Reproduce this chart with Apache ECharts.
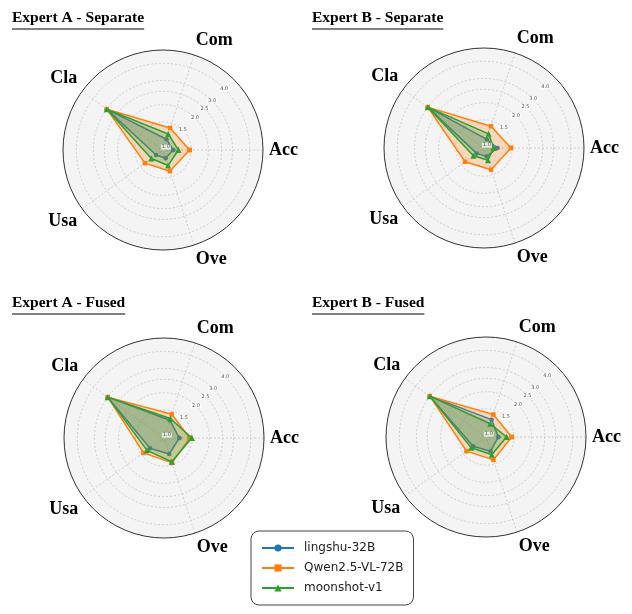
<!DOCTYPE html>
<html><head><meta charset="utf-8">
<script src="https://cdn.jsdelivr.net/npm/echarts@6/dist/echarts.min.js"></script>
<style>html,body{margin:0;padding:0;background:#fff}#c{width:632px;height:614px}</style>
</head><body><div id="c"></div>
<script>
// ---- data ----
const axisNames = ['Acc', 'Com', 'Cla', 'Usa', 'Ove'];
const models = ['lingshu-32B', 'Qwen2.5-VL-72B', 'moonshot-v1'];
const panelTitles = ['Expert A - Separate', 'Expert B - Separate', 'Expert A - Fused', 'Expert B - Fused'];
const radialTicks = [1.0, 1.5, 2.0, 2.5, 3.0, 4.0];

// values in axis order: Acc, Com, Cla, Usa, Ove
const aSepLingshu = [1.11, 1.13, 3.0, 1.08, 1.08];
const aSepQwen    = [1.46, 1.38, 3.0, 1.36, 1.36];
const aSepMoon    = [1.21, 1.24, 3.0, 1.19, 1.23];

const bSepLingshu = [1.17, 1.09, 3.0, 1.09, 1.085];
const bSepQwen    = [1.47, 1.37, 3.0, 1.385, 1.37];
const bSepMoon    = [1.10, 1.20, 3.0, 1.165, 1.16];

const aFusLingshu = [1.21, 1.28, 3.0, 1.25, 1.24];
const aFusQwen    = [1.44, 1.42, 3.0, 1.43, 1.45];
const aFusMoon    = [1.49, 1.32, 3.0, 1.33, 1.42];

const bFusLingshu = [1.15, 1.27, 3.0, 1.22, 1.20];
const bFusQwen    = [1.44, 1.39, 3.0, 1.40, 1.40];
const bFusMoon    = [1.32, 1.18, 3.0, 1.27, 1.28];

const panelData = [
  [aSepLingshu, aSepQwen, aSepMoon],
  [bSepLingshu, bSepQwen, bSepMoon],
  [aFusLingshu, aFusQwen, aFusMoon],
  [bFusLingshu, bFusQwen, bFusMoon]
];

// ---- style / layout ----
const colors = ['#1f77b4', '#ff7f0e', '#2ca02c'];
const symbols = ['circle', 'rect', 'triangle'];
const centers = [[163, 150], [484, 148], [164, 438], [486, 437]];
const R = 100;
const rMin = 0.935, rMax = 5;
const titlePos = [[12, 10], [312, 10], [12, 295], [312, 295]];
const step = 360 / axisNames.length;

const polar = [], angleAxis = [], radiusAxis = [], series = [], title = [], graphic = [];
const gridLine = { color: '#c4c4c4', type: [2, 2], width: 0.8 };

centers.forEach((c, p) => {
  polar.push({ center: c, radius: [0, R] });
  polar.push({ center: c, radius: [0, R] });
  angleAxis.push({
    polarIndex: 2 * p, type: 'value', min: 0, max: 360, interval: step,
    startAngle: 0, clockwise: false, z: 1,
    axisLine: { lineStyle: { color: '#333', width: 1 } },
    axisTick: { show: false },
    axisLabel: {
      margin: 6, formatter: v => axisNames[Math.round(v / step) % axisNames.length],
      fontFamily: 'Liberation Serif', fontWeight: 'bold', fontSize: 18, color: '#000'
    },
    splitLine: { show: true, lineStyle: gridLine },
    splitArea: { show: false }
  });
  radiusAxis.push({
    polarIndex: 2 * p, type: 'log', min: rMin, max: rMax, z: 1,
    axisLine: { show: false },
    axisTick: { show: false, customValues: radialTicks },
    axisLabel: { show: false },
    splitLine: { show: true, lineStyle: gridLine }
  });
  // background disc + radial tick labels drawn on an overlaid polar rotated 45deg
  angleAxis.push({
    polarIndex: 2 * p + 1, type: 'value', min: 0, max: 360, interval: 90, startAngle: 45,
    clockwise: false, z: 0,
    axisLine: { show: false }, axisTick: { show: false }, axisLabel: { show: false },
    splitLine: { show: false },
    splitArea: { show: true, areaStyle: { color: ['#f4f4f4'] } }
  });
  radiusAxis.push({
    polarIndex: 2 * p + 1, type: 'log', min: rMin, max: rMax, z: 10,
    axisLine: { show: false }, axisTick: { show: false }, splitLine: { show: false },
    axisLabel: {
      customValues: radialTicks, showMinLabel: true, showMaxLabel: true,
      formatter: v => Number(v).toFixed(1), fontSize: 5, color: '#555',
      fontFamily: 'DejaVu Sans', margin: 0, align: 'center', verticalAlign: 'middle',
      backgroundColor: 'rgba(255,255,255,0.7)', padding: [0, 1]
    }
  });
  panelData[p].forEach((vals, m) => {
    const pts = vals.map((v, i) => [v, i * step]);
    pts.push([vals[0], 360]);
    series.push({
      type: 'line', name: models[m], coordinateSystem: 'polar', polarIndex: 2 * p,
      data: pts, symbol: symbols[m], symbolSize: m === 2 ? 6 : 4.5, showSymbol: true,
      color: colors[m], lineStyle: { width: 1.5, color: colors[m] },
      itemStyle: { color: colors[m] },
      areaStyle: { color: colors[m], opacity: 0.25 },
      z: 2 + m, animation: false
    });
  });
});

const ctx = document.createElement('canvas').getContext('2d');
ctx.font = 'bold 15.5px "Liberation Serif"';
panelTitles.forEach((t, i) => {
  title.push({
    text: t, left: titlePos[i][0], top: titlePos[i][1], padding: 0,
    textStyle: { fontFamily: 'Liberation Serif', fontWeight: 'bold', fontSize: 15.5, color: '#000' }
  });
  const w = ctx.measureText(t).width;
  graphic.push({
    type: 'line', shape: { x1: titlePos[i][0], y1: titlePos[i][1] + 19, x2: titlePos[i][0] + w, y2: titlePos[i][1] + 19 },
    style: { stroke: '#000', lineWidth: 1.2 }
  });
});

const chart = echarts.init(document.getElementById('c'), null, { renderer: 'canvas' });
chart.setOption({
  animation: false,
  backgroundColor: '#fff',
  title, polar, angleAxis, radiusAxis, series, graphic,
  legend: {
    data: models, orient: 'vertical', left: 251, top: 531,
    itemWidth: 32, itemHeight: 9, itemGap: 8,
    padding: [11, 10, 11, 10],
    borderColor: '#444', borderWidth: 1, borderRadius: 8, backgroundColor: '#fff',
    textStyle: { fontFamily: 'DejaVu Sans', fontSize: 12, color: '#222', padding: [0, 0, 0, 5] }
  }
});
</script></body></html>
